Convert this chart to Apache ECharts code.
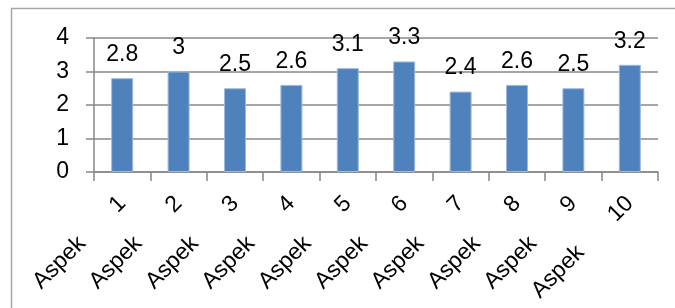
<!DOCTYPE html>
<html>
<head>
<meta charset="utf-8">
<script src="https://cdn.jsdelivr.net/npm/echarts@6/dist/echarts.min.js"></script>
<style>
  html, body { margin: 0; padding: 0; background: #fff; }
  #chart { width: 675px; height: 308px; }
</style>
</head>
<body>
<div id="chart"></div>
<script>
// data
const categories = ['1', '2', '3', '4', '5', '6', '7', '8', '9', '10']
const values = [2.8, 3, 2.5, 2.6, 3.1, 3.3, 2.4, 2.6, 2.5, 3.2]
const yTicks = [0, 1, 2, 3, 4]

const myChart = echarts.init(document.getElementById('chart'))
const font = 'Liberation Sans'

myChart.setOption({
  animation: false,
  textStyle: { fontFamily: font, fontSize: 23 },
  // outer frame of the chart area
  graphic: [
    {
      type: 'rect',
      shape: { x: 11.5, y: 8.5, width: 700, height: 320 },
      style: { fill: 'none', stroke: '#a6a6a6', lineWidth: 1.5 },
      silent: true
    }
  ],
  grid: {
    left: 94,
    right: 17,
    top: 38,
    bottom: 136
  },
  xAxis: {
    type: 'category',
    data: categories,
    axisLine: { lineStyle: { color: '#888', width: 1.5 } },
    axisTick: { show: true, length: 9, lineStyle: { color: '#888', width: 1.5 } },
    axisLabel: {
      rotate: 45,
      margin: 28,
      interval: 0,
      fontSize: 23,
      formatter: v => '{a|Aspek}{n|' + v + '}',
      rich: {
        a: { fontSize: 23, fontFamily: font, color: '#000', padding: [0, 44, 0, 0] },
        n: { fontSize: 23, fontFamily: font, color: '#000' }
      }
    }
  },
  yAxis: {
    type: 'value',
    min: yTicks[0],
    max: yTicks[yTicks.length - 1],
    interval: 1,
    axisLine: { show: true, lineStyle: { color: '#888', width: 1.5 } },
    axisTick: { show: true, length: 8, lineStyle: { color: '#888', width: 1.5 } },
    axisLabel: { fontSize: 23, fontFamily: font, color: '#000', margin: 25 },
    splitLine: { show: true, lineStyle: { color: '#888', width: 1.5 } }
  },
  series: [
    {
      type: 'bar',
      data: values,
      barWidth: 22,
      itemStyle: {
        color: '#4f81bd',
        borderColor: '#9fbadb',
        borderWidth: 1
      },
      label: {
        show: true,
        position: 'top',
        distance: 12,
        fontSize: 23,
        fontFamily: font,
        color: '#000'
      }
    }
  ]
})
</script>
</body>
</html>
